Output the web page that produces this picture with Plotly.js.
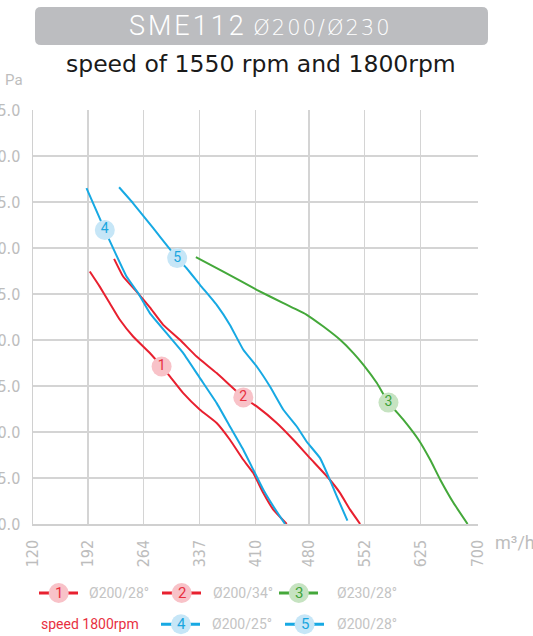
<!DOCTYPE html>
<html>
<head>
<meta charset="utf-8">
<script src="https://cdn.plot.ly/plotly-3.0.1.min.js"></script>
<style>
html,body{margin:0;padding:0;background:#fff;}
#chart{width:533px;height:636px;}
</style>
</head>
<body>
<div id="chart"></div>
<script>
// ---------- DATA ----------
const xTickVals = [120, 192, 264, 337, 410, 480, 552, 625, 700];
const xTickText = ['120', '192', '264', '337', '410', '480', '552', '625', '700'];
const yTickVals = [0, 25, 50, 75, 100, 125, 150, 175, 200, 225];

// 1: Ø200/28° (red, 1550 rpm)
const flow1 = [194.0, 207.0, 220.1, 233.2, 250.5, 272.3, 287.6, 298.4, 315.8, 337.6, 359.4, 376.7, 394.1, 407.1, 420.2, 433.2, 450.7];
const pres1 = [137.2, 129.0, 120.0, 111.0, 101.9, 92.9, 85.6, 80.2, 71.1, 62.1, 54.9, 45.8, 34.9, 27.7, 16.8, 7.8, 0];
// 2: Ø200/34° (red, 1550 rpm)
const flow2 = [225.7, 237.5, 255.0, 272.3, 289.7, 311.5, 333.3, 359.4, 394.1, 411.6, 437.7, 459.3, 481.1, 505.0, 520.3, 533.3, 546.4];
const pres2 = [144.1, 134.5, 126.3, 117.7, 108.2, 100.1, 91.0, 82.0, 68.8, 63.9, 54.9, 45.8, 35.8, 25.0, 16.8, 7.8, 0];
// 3: Ø230/28° (green, 1550 rpm)
const flow3 = [332.3, 368.0, 411.6, 446.3, 476.8, 498.5, 520.3, 537.6, 550.7, 568.2, 583.3, 602.9, 622.5, 637.7, 650.8, 668.2, 686.4];
const pres3 = [145.0, 137.2, 127.3, 120.0, 113.7, 107.3, 100.1, 92.9, 86.5, 76.6, 66.0, 56.6, 45.8, 34.9, 24.1, 11.4, 0];
// 4: Ø200/25° (blue, 1800 rpm)
const flow4 = [189.7, 213.6, 224.4, 241.9, 257.0, 272.3, 294.1, 315.8, 337.6, 359.4, 376.7, 394.1, 407.1, 420.2, 433.2, 448.5];
const pres4 = [182.5, 159.8, 149.9, 134.5, 125.5, 114.6, 103.7, 92.9, 79.3, 65.7, 53.0, 40.4, 29.5, 18.6, 9.6, 0];
// 5: Ø200/28° (blue, 1800 rpm)
const flow5 = [232.2, 250.5, 268.0, 285.4, 307.9, 320.2, 337.6, 359.4, 376.7, 394.1, 411.6, 428.9, 446.3, 463.8, 476.8, 494.2, 505.0, 516.0, 529.8];
const pres5 = [183.0, 174.3, 165.3, 156.2, 144.5, 139.0, 130.0, 119.1, 108.2, 94.7, 85.6, 74.7, 62.1, 53.0, 44.7, 35.8, 25.9, 15.0, 1.8];

// curve label positions
const labelNums = ['1', '2', '3', '4', '5'];
const labelFlow = [287.6, 394.1, 583.3, 213.6, 307.9];
const labelPres = [85.6, 68.8, 66.0, 159.8, 144.5];

const legendNames = ['Ø200/28°', 'Ø200/34°', 'Ø230/28°', 'Ø200/25°', 'Ø200/28°'];

// ---------- STYLE ----------
const RED = '#e8202f', GREEN = '#44a83a', BLUE = '#17a9e3';
const lineCol = [RED, RED, GREEN, BLUE, BLUE];
const fillCol = ['#f8c2c8', '#f8c2c8', '#c6e3c1', '#c6e6f7', '#c6e6f7'];
const txtCol = ['#e8303f', '#e8303f', '#3ea33a', '#1aa6e0', '#1aa6e0'];
const FONT = 'Roboto, "Liberation Sans", sans-serif';
const NARROW = '"Liberation Sans Narrow", "DejaVu Sans Condensed", Roboto, sans-serif';
const GRAYTXT = '#bdbdbd';

const W0 = 533, H0 = 636;
const L = 33, R = 55, T = 110, B = 112;
const PW = W0 - L - R, PH = H0 - T - B, PBOT = H0 - B;
const px = v => (v - L) / PW;
const py = v => (PBOT - v) / PH;

const flows = [flow1, flow2, flow3, flow4, flow5];
const press = [pres1, pres2, pres3, pres4, pres5];

const traces = flows.map((f, i) => ({
  x: f, y: press[i], type: 'scatter', mode: 'lines',
  line: {color: lineCol[i], width: 2, shape: 'spline', smoothing: 0.35},
  hoverinfo: 'skip', showlegend: false
}));
traces.push({
  x: labelFlow, y: labelPres, type: 'scatter', mode: 'markers+text',
  text: labelNums, textposition: 'middle center',
  textfont: {family: FONT, size: 14, color: txtCol},
  marker: {size: 20, color: fillCol, line: {width: 0}},
  hoverinfo: 'skip', showlegend: false, cliponaxis: false
});

// ---------- decorations ----------
const shapes = [];
const annotations = [];

// banner
(function () {
  const x0 = 35, x1 = 488, y0 = 7, y1 = 45, r = 6;
  const P = (a, b) => px(a).toFixed(5) + ',' + py(b).toFixed(5);
  const path = 'M' + P(x0 + r, y0) + ' L' + P(x1 - r, y0) + ' Q' + P(x1, y0) + ' ' + P(x1, y0 + r) +
    ' L' + P(x1, y1 - r) + ' Q' + P(x1, y1) + ' ' + P(x1 - r, y1) +
    ' L' + P(x0 + r, y1) + ' Q' + P(x0, y1) + ' ' + P(x0, y1 - r) +
    ' L' + P(x0, y0 + r) + ' Q' + P(x0, y0) + ' ' + P(x0 + r, y0) + ' Z';
  shapes.push({type: 'path', xref: 'paper', yref: 'paper', path: path,
    fillcolor: '#bcbdc0', line: {width: 0}, layer: 'below'});
})();

annotations.push({
  xref: 'paper', yref: 'paper', x: px(260), y: py(26), xanchor: 'center', yanchor: 'middle',
  showarrow: false,
  text: '<span style="letter-spacing:3px">SME112</span> <span style="font-family:DejaVu Sans;font-size:21px;letter-spacing:2px">Ø200/Ø230</span>',
  font: {family: FONT, size: 27, color: '#ffffff', weight: 300}
});
annotations.push({
  xref: 'paper', yref: 'paper', x: px(261), y: py(64), xanchor: 'center', yanchor: 'middle',
  showarrow: false, text: 'speed of 1550 rpm and 1800rpm',
  font: {family: '"DejaVu Sans", sans-serif', size: 23.5, color: '#1a1a1a'}
});
annotations.push({
  xref: 'paper', yref: 'paper', x: px(3), y: py(80), xanchor: 'left', yanchor: 'middle',
  showarrow: false, text: 'Pa', font: {family: FONT, size: 15, color: GRAYTXT}
});
annotations.push({
  xref: 'paper', yref: 'paper', x: px(493), y: py(542), xanchor: 'left', yanchor: 'middle',
  showarrow: false, text: 'm³/h', font: {family: FONT, size: 18, color: GRAYTXT}
});

// legend
const legItems = [
  {row: 593, l0: 39, l1: 78, c: 58.7, t: 86.6},
  {row: 593, l0: 162, l1: 201, c: 181.7, t: 211},
  {row: 593, l0: 279, l1: 318, c: 298.8, t: 334.5},
  {row: 624.3, l0: 161, l1: 200, c: 181, t: 209.5},
  {row: 624.3, l0: 285, l1: 324, c: 304.6, t: 334.5}
];
legItems.forEach((it, i) => {
  shapes.push({type: 'line', xref: 'paper', yref: 'paper',
    x0: px(it.l0), x1: px(it.l1), y0: py(it.row), y1: py(it.row),
    line: {color: lineCol[i], width: 3}});
  shapes.push({type: 'circle', xref: 'paper', yref: 'paper',
    x0: px(it.c - 10), x1: px(it.c + 10), y0: py(it.row + 10), y1: py(it.row - 10),
    fillcolor: fillCol[i], line: {width: 0}});
  annotations.push({xref: 'paper', yref: 'paper', x: px(it.c), y: py(it.row),
    xanchor: 'center', yanchor: 'middle', showarrow: false, text: labelNums[i],
    font: {family: FONT, size: 15, color: txtCol[i]}});
  annotations.push({xref: 'paper', yref: 'paper', x: px(it.t), y: py(it.row),
    xanchor: 'left', yanchor: 'middle', showarrow: false, text: legendNames[i],
    font: {family: FONT, size: 14, color: '#c4c4c4'}});
});
annotations.push({xref: 'paper', yref: 'paper', x: px(39), y: py(624.3),
  xanchor: 'left', yanchor: 'middle', showarrow: false, text: 'speed 1800rpm',
  font: {family: FONT, size: 14, color: '#e8303f'}});

const layout = {
  width: W0, height: H0,
  margin: {l: L, r: R, t: T, b: B, pad: 0},
  paper_bgcolor: '#ffffff', plot_bgcolor: '#ffffff',
  showlegend: false,
  xaxis: {
    range: [120, 700], tickmode: 'array', tickvals: xTickVals, ticktext: xTickText,
    tickangle: -90, showgrid: true, gridcolor: '#d4d4d4', gridwidth: 1.5,
    showline: true, linecolor: '#d0d0d0', linewidth: 1.5, zeroline: false,
    ticks: '', ticklabelstandoff: 8, automargin: false,
    tickfont: {family: NARROW, size: 16, color: GRAYTXT}, fixedrange: true
  },
  yaxis: {
    range: [0, 225], tickmode: 'array', tickvals: yTickVals, tickformat: '.1f',
    showgrid: true, gridcolor: '#d4d4d4', gridwidth: 1.5,
    showline: true, linecolor: '#d0d0d0', linewidth: 1.5, zeroline: false,
    ticks: '', ticklabelstandoff: 8, automargin: false,
    tickfont: {family: NARROW, size: 16, color: GRAYTXT}, fixedrange: true
  },
  shapes: shapes,
  annotations: annotations
};

Plotly.newPlot('chart', traces, layout, {displayModeBar: false, staticPlot: true});
</script>
</body>
</html>
